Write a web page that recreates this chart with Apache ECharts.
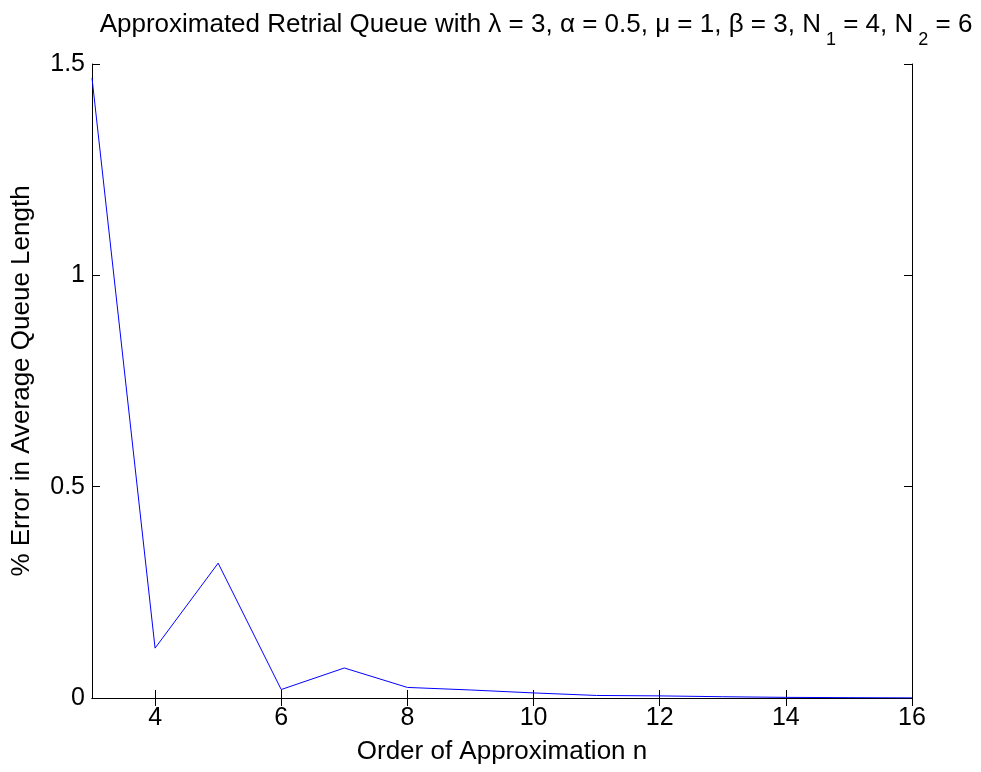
<!DOCTYPE html>
<html>
<head>
<meta charset="utf-8">
<script src="https://cdn.jsdelivr.net/npm/echarts@6/dist/echarts.min.js"></script>
<style>html,body{margin:0;padding:0;background:#fff;}#c{width:981px;height:772px;}</style>
</head>
<body>
<div id="c"></div>
<script>
const orders = [3, 4, 5, 6, 7, 8, 9, 10, 11, 12, 13, 14, 15, 16];
const errors = [1.467, 0.118, 0.319, 0.020, 0.071, 0.025, 0.019, 0.012, 0.006, 0.005, 0.003, 0.0015, 0.0008, 0.0003];
const xTicks = [4, 6, 8, 10, 12, 14, 16];
const yTicks = [0, 0.5, 1, 1.5];

const FONT = 'Liberation Sans, Arial, sans-serif';
const FS = 25;
const NFS = 26;
const chart = echarts.init(document.getElementById('c'), null, {renderer: 'canvas'});
const axisCommon = {
  axisLine: {show: true, lineStyle: {color: '#000', width: 1}},
  axisTick: {show: true, inside: true, length: 8, lineStyle: {color: '#000'}},
  splitLine: {show: false}
};
chart.setOption({
  backgroundColor: '#fff',
  animation: false,
  title: {
    text: 'Approximated Retrial Queue with λ = 3, α = 0.5, μ = 1, β = 3, N{sub|1} = 4, N{sub|2} = 6',
    left: 531, top: -5, textAlign: 'center',
    textStyle: {
      fontFamily: FONT, fontSize: 26, fontWeight: 'normal', color: '#000',
      rich: {sub: {fontFamily: FONT, fontSize: 18, color: '#000', padding: [31, 0, 0, 5]}}
    }
  },
  grid: {left: 92, right: 69, top: 64, bottom: 74, containLabel: false},
  xAxis: [
    Object.assign({}, axisCommon, {
      type: 'value', min: 3, max: 16, position: 'bottom',
      name: 'Order of Approximation n', nameLocation: 'middle', nameGap: 41,
      nameTextStyle: {fontFamily: FONT, fontSize: NFS, color: '#000'},
      axisTick: Object.assign({}, axisCommon.axisTick, {customValues: xTicks}),
      axisLabel: {customValues: xTicks, fontFamily: FONT, fontSize: FS, color: '#000', margin: 8}
    }),
    Object.assign({}, axisCommon, {
      type: 'value', min: 3, max: 16, position: 'top',
      axisTick: Object.assign({}, axisCommon.axisTick, {customValues: xTicks}),
      axisLabel: {show: false}
    })
  ],
  yAxis: [
    Object.assign({}, axisCommon, {
      type: 'value', min: 0, max: 1.5, interval: 0.5, position: 'left',
      name: '% Error in Average Queue Length', nameLocation: 'middle', nameGap: 57,
      nameTextStyle: {fontFamily: FONT, fontSize: NFS, color: '#000'},
      axisLabel: {fontFamily: FONT, fontSize: FS, color: '#000', margin: 7}
    }),
    Object.assign({}, axisCommon, {
      type: 'value', min: 0, max: 1.5, interval: 0.5, position: 'right',
      axisLabel: {show: false}
    })
  ],
  series: [{
    type: 'line',
    xAxisIndex: 0, yAxisIndex: 0,
    data: orders.map((n, i) => [n, errors[i]]),
    symbol: 'none',
    lineStyle: {color: '#0000ff', width: 1},
    itemStyle: {color: '#0000ff'}
  }]
});
</script>
</body>
</html>
